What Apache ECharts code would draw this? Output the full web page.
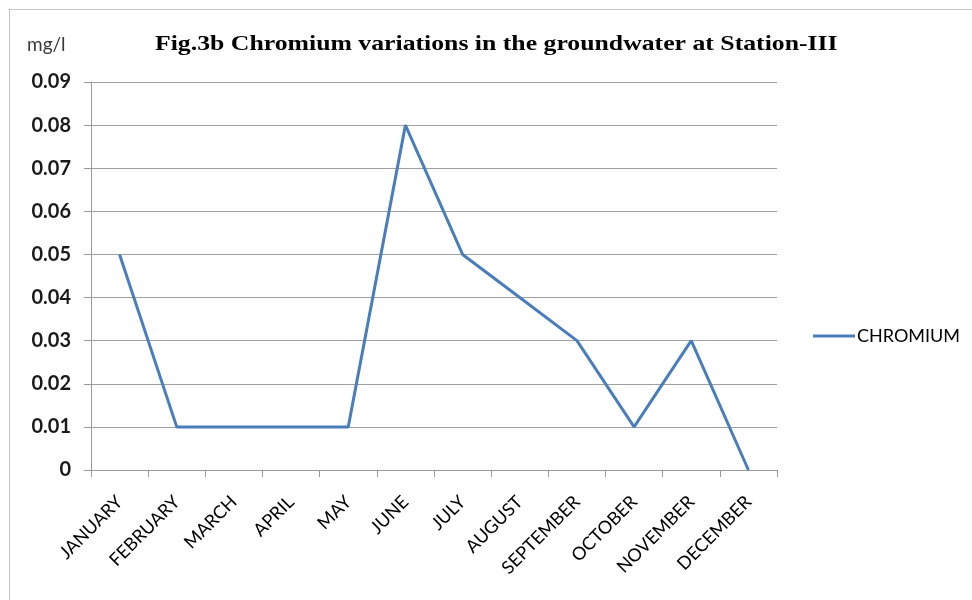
<!DOCTYPE html>
<html>
<head>
<meta charset="utf-8">
<script src="https://cdn.jsdelivr.net/npm/echarts@6/dist/echarts.min.js"></script>
<style>
  html, body { margin: 0; padding: 0; background: #ffffff; }
  #chart { width: 972px; height: 600px; }
</style>
</head>
<body>
<div id="chart"></div>
<script>
// Monthly chromium readings (mg/l) at Station-III
const months = ['JANUARY', 'FEBRUARY', 'MARCH', 'APRIL', 'MAY', 'JUNE', 'JULY',
  'AUGUST', 'SEPTEMBER', 'OCTOBER', 'NOVEMBER', 'DECEMBER'];
const chromium = [0.05, 0.01, 0.01, 0.01, 0.01, 0.08, 0.05, 0.04, 0.03, 0.01, 0.03, 0];
const yTicks = { min: 0, max: 0.09, step: 0.01 };

const chart = echarts.init(document.getElementById('chart'), null, { renderer: 'canvas' });

const axisGray = '#9a9a9a';

chart.setOption({
  animation: false,
  backgroundColor: '#ffffff',
  graphic: [
    // outer frame of the chart area
    { type: 'line', shape: { x1: 9.5, y1: 9.5, x2: 972, y2: 9.5 },
      style: { stroke: '#8c8c8c', lineWidth: 1, lineDash: [1, 1] } },
    { type: 'line', shape: { x1: 9.5, y1: 9.5, x2: 9.5, y2: 600 },
      style: { stroke: '#8c8c8c', lineWidth: 1, lineDash: [1, 1] } },
    { type: 'text', x: 27, y: 35,
      style: { text: 'mg/l', font: '19px Lato', fill: '#3a3a3a' } },
    // wide bold serif title
    { type: 'text', x: 155, y: 33, scaleX: 1.17,
      style: { text: 'Fig.3b Chromium variations in the groundwater at Station-III',
        font: 'bold 22px "Liberation Serif"', fill: '#000000' } }
  ],
  legend: {
    left: 808, top: 322,
    orient: 'vertical',
    icon: 'rect',
    itemWidth: 42, itemHeight: 3, itemGap: 5,
    textStyle: { fontFamily: 'Lato', fontSize: 18, color: '#000000', padding: [0, 0, 0, -3] },
    data: ['CHROMIUM']
  },
  grid: { left: 91, right: 195, top: 82, bottom: 130, containLabel: false },
  xAxis: {
    type: 'category',
    data: months,
    boundaryGap: true,
    axisLine: { lineStyle: { color: axisGray, width: 1 } },
    axisTick: { show: true, length: 7, lineStyle: { color: axisGray } },
    axisLabel: {
      rotate: 45, interval: 0, margin: 29,
      fontFamily: 'Lato', fontSize: 18, color: '#000000'
    },
    splitLine: { show: false }
  },
  yAxis: {
    type: 'value',
    min: yTicks.min, max: yTicks.max, interval: yTicks.step,
    axisLine: { show: true, lineStyle: { color: axisGray, width: 1 } },
    axisTick: { show: true, length: 7, lineStyle: { color: axisGray } },
    axisLabel: {
      margin: 20,
      fontFamily: 'Lato', fontWeight: 'bold', fontSize: 20, color: '#1a1a1a',
      formatter: v => (v === 0 ? '0' : v.toFixed(2))
    },
    splitLine: { lineStyle: { color: '#a0a0a0', width: 1.2 } }
  },
  series: [{
    name: 'CHROMIUM',
    type: 'line',
    data: chromium,
    symbol: 'none',
    lineStyle: { color: '#4a7ebb', width: 3 },
    itemStyle: { color: '#4a7ebb' }
  }]
});
</script>
</body>
</html>
